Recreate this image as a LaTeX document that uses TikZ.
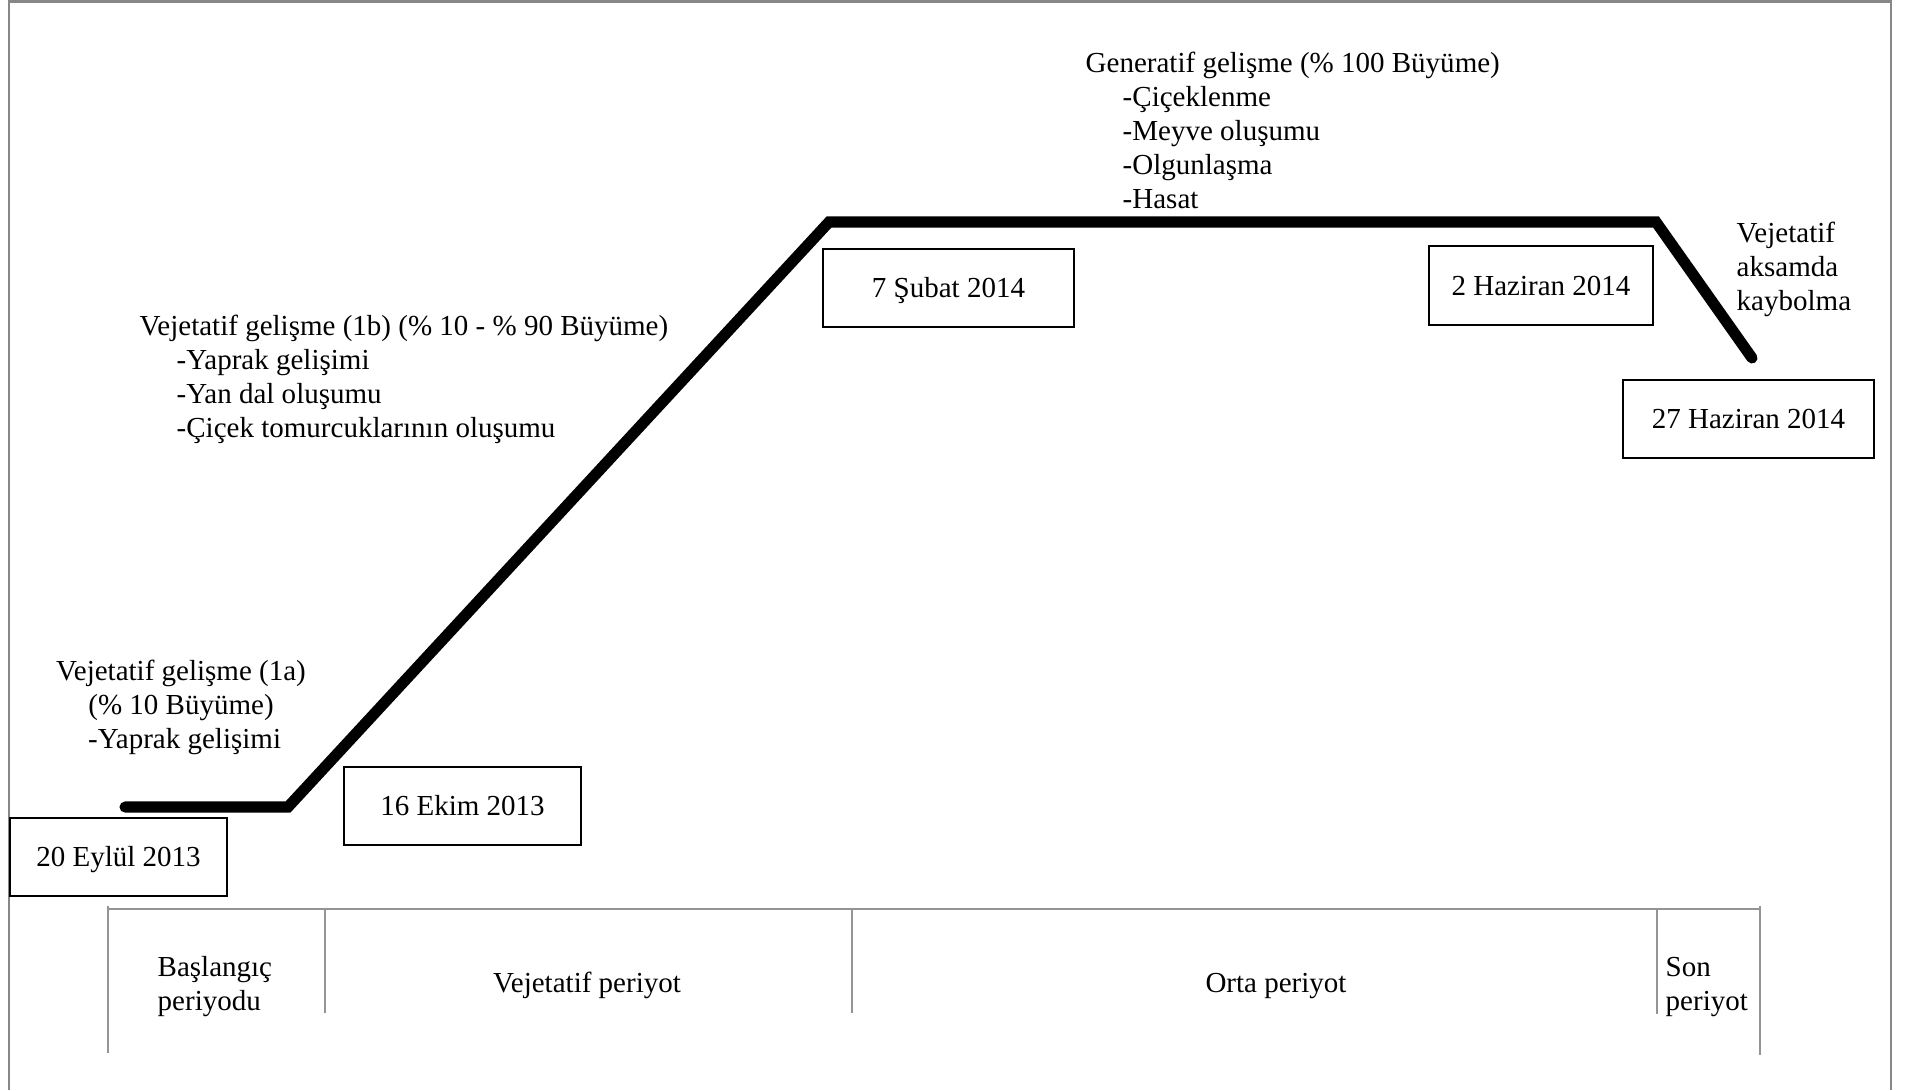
\documentclass[tikz,border=0pt]{standalone}
\usepackage{fontspec}
\setmainfont{Liberation Serif}
\begin{document}
\begin{tikzpicture}[x=0.01cm,y=-0.01cm,
  txt/.style={inner sep=0pt, font=\fontsize{8.25pt}{9.6pt}\selectfont},
  datebox/.style={txt, draw=black, line width=0.6pt, minimum height=0.78cm,
    text height=0.196cm, text depth=0pt},
  framegray/.style={draw=black!47, line width=0.6pt},
  tbl/.style={draw=black!42, line width=0.45pt},
  growth/.style={line width=3.15pt, line cap=round, line join=miter}]
\useasboundingbox (0,0) rectangle (1906,1090);
% outer frame
\draw[framegray] (9,1090) -- (9,1.5) -- (1891,1.5) -- (1891,1090);
% growth curve
\coordinate (g0) at (125,807);
\coordinate (g1) at (288,807);
\coordinate (g2) at (829,222);
\coordinate (g3) at (1656,222);
\coordinate (g4) at (1752,358);
\draw[growth] (g0) -- (g1) -- (g2) -- (g3) -- (g4);
% date boxes
\node[datebox, minimum width=2.17cm] (eylul) at (118.5,857) {20 Eylül 2013};
\node[datebox, minimum width=2.37cm] (ekim) at (462.5,806) {16 Ekim 2013};
\node[datebox, minimum width=2.51cm] (subat) at (948.5,288) {7 Şubat 2014};
\node[datebox, minimum width=2.24cm, minimum height=0.79cm] (haz2) at (1541,285.5) {2 Haziran 2014};
\node[datebox, minimum width=2.51cm] (haz27) at (1748.5,419) {27 Haziran 2014};
% stage descriptions (anchor base = last line's baseline)
\node[txt, align=center, anchor=base] (st1a) at (181,748)
  {Vejetatif gelişme (1a)\\(\% 10 Büyüme)\\\ -Yaprak gelişimi};
\node[txt, align=left, anchor=base west] (st1b) at (139,437)
  {Vejetatif gelişme (1b) (\% 10 - \% 90 Büyüme)\\
   \hspace{0.37cm}-Yaprak gelişimi\\
   \hspace{0.37cm}-Yan dal oluşumu\\
   \hspace{0.37cm}-Çiçek tomurcuklarının oluşumu};
\node[txt, align=left, anchor=base west] (gen) at (1085,208)
  {Generatif gelişme (\% 100 Büyüme)\\
   \hspace{0.37cm}-Çiçeklenme\\
   \hspace{0.37cm}-Meyve oluşumu\\
   \hspace{0.37cm}-Olgunlaşma\\
   \hspace{0.37cm}-Hasat};
\node[txt, align=left, anchor=base west] (kayb) at (1736,310)
  {Vejetatif\\aksamda\\kaybolma};
% period table
\coordinate (tl) at (108,909);
\coordinate (tr) at (1760,909);
\draw[tbl] (108,1053) -- (108,906);
\draw[tbl] (1760,1055) -- (1760,906);
\draw[tbl] (tl) -- (tr);
\draw[tbl] (325,909) -- (325,1013);
\draw[tbl] (852,909) -- (852,1013);
\draw[tbl] (1657,909) -- (1657,1014);
\node[txt, align=left, anchor=base west] (pbas) at (157,1010) {Başlangıç\\periyodu};
\node[txt, anchor=base] (pveg) at (587,992) {Vejetatif periyot};
\node[txt, anchor=base] (porta) at (1276,992) {Orta periyot};
\node[txt, align=left, anchor=base west] (pson) at (1665,1010) {Son\\periyot};
\end{tikzpicture}
\end{document}
